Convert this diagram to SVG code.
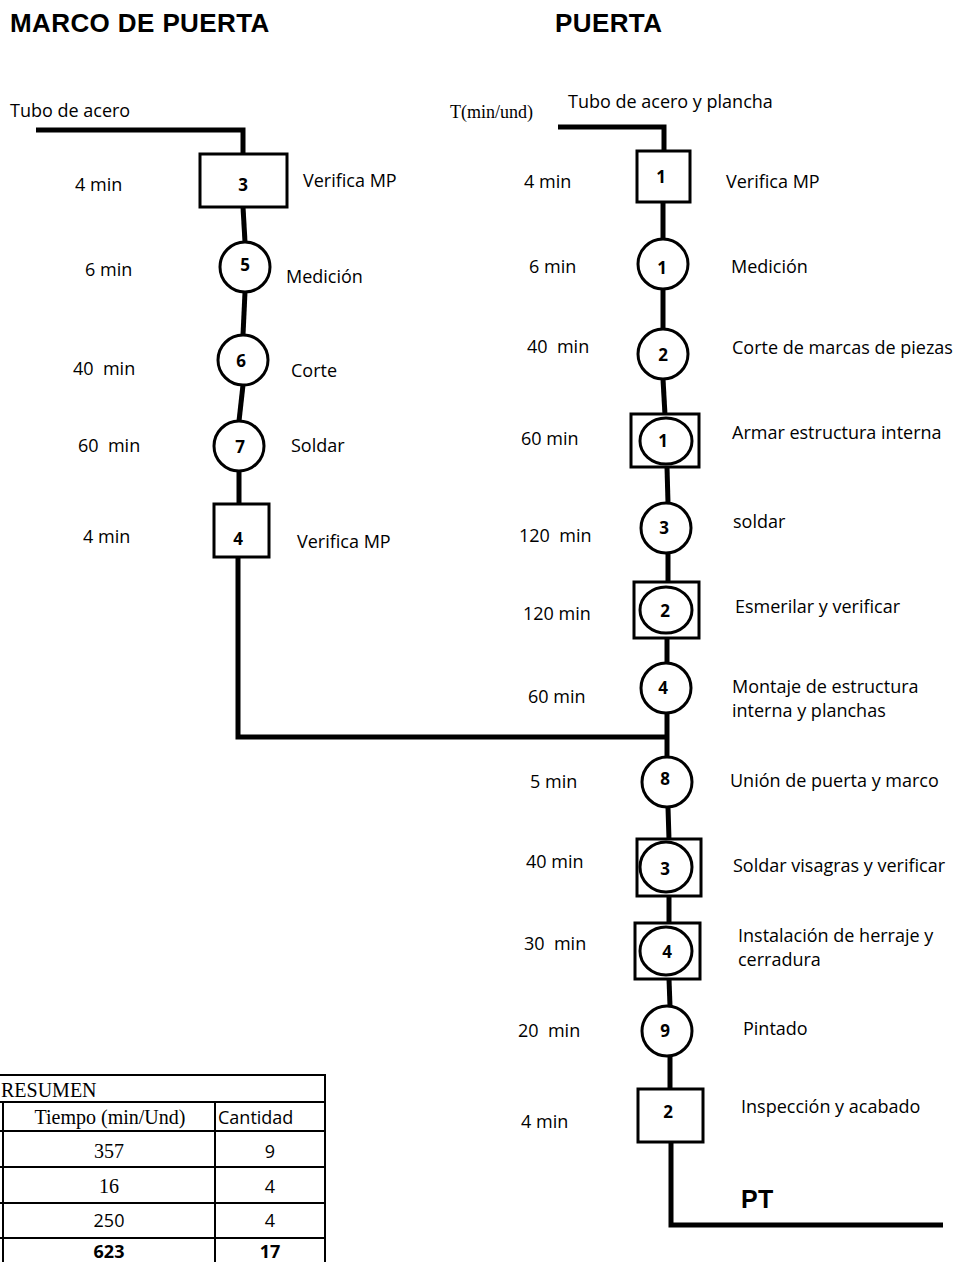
<svg xmlns="http://www.w3.org/2000/svg" width="957" height="1262" viewBox="0 0 957 1262">
<style>
.t{font-family:"Open Sans","Liberation Sans",sans-serif;font-size:18px;fill:#000;white-space:pre}
.n{font-family:"Open Sans","Liberation Sans",sans-serif;font-size:17px;font-weight:bold;fill:#000;text-anchor:middle}
.h{font-family:"Liberation Sans",Arial,sans-serif;font-size:26px;font-weight:bold;fill:#000;letter-spacing:0.4px}
.s{font-family:"Liberation Serif","Times New Roman",serif;font-size:20px;fill:#000}
.c{fill:none;stroke:#000;stroke-width:5;stroke-linejoin:miter}
.nd{fill:#fff;stroke:#000;stroke-width:3}
.tb{fill:none;stroke:#000;stroke-width:2}
.tn{font-family:"Open Sans","Liberation Sans",sans-serif;font-size:18px;fill:#000;text-anchor:middle}
</style>
<rect width="957" height="1262" fill="#fff"/>
<text class="h" x="10" y="32">MARCO DE PUERTA</text>
<text class="h" x="555" y="32">PUERTA</text>
<text class="t" x="10" y="117">Tubo de acero</text>
<text class="s" x="450" y="118" style="font-size:18px">T(min/und)</text>
<text class="t" x="568" y="108">Tubo de acero y plancha</text>
<g id="connectors">
<polyline class="c" points="36,130 243,130 243,156"/>
<line class="c" x1="243" y1="207" x2="245" y2="242"/>
<line class="c" x1="245" y1="292" x2="243" y2="335"/>
<line class="c" x1="243" y1="385" x2="239" y2="421"/>
<line class="c" x1="239" y1="471" x2="239" y2="505"/>
<polyline class="c" points="238,556 238,737 666,737"/>
<polyline class="c" points="558,127 664,127 664,152"/>
<line class="c" x1="663" y1="202" x2="663" y2="239"/>
<line class="c" x1="663" y1="289" x2="663" y2="329"/>
<line class="c" x1="663" y1="379" x2="665" y2="415"/>
<line class="c" x1="667" y1="467" x2="668" y2="503"/>
<line class="c" x1="668" y1="553" x2="668" y2="583"/>
<line class="c" x1="667" y1="638" x2="667" y2="663"/>
<line class="c" x1="667" y1="713" x2="667" y2="757"/>
<line class="c" x1="668" y1="807" x2="669" y2="840"/>
<line class="c" x1="669" y1="896" x2="669" y2="924"/>
<line class="c" x1="669" y1="979" x2="670" y2="1006"/>
<line class="c" x1="670" y1="1056" x2="670" y2="1090"/>
<polyline class="c" points="671,1140 671,1225 943,1225"/>
</g>
<g id="m3"><rect class="nd" x="200" y="154" width="87" height="53"/><text class="n" x="243" y="191">3</text></g>
<g id="m5"><circle class="nd" cx="245" cy="267" r="25"/><text class="n" x="245" y="271">5</text></g>
<g id="m6"><circle class="nd" cx="243" cy="360" r="25"/><text class="n" x="241" y="367">6</text></g>
<g id="m7"><circle class="nd" cx="239" cy="446" r="25"/><text class="n" x="240" y="453">7</text></g>
<g id="m4"><rect class="nd" x="214" y="504" width="55" height="53"/><text class="n" x="238" y="545">4</text></g>
<g id="p1"><rect class="nd" x="637" y="151" width="53" height="51"/><text class="n" x="661" y="183">1</text></g>
<g id="pc1"><circle class="nd" cx="663" cy="264" r="25"/><text class="n" x="662" y="274">1</text></g>
<g id="pc2"><circle class="nd" cx="663" cy="354" r="25"/><text class="n" x="663" y="361">2</text></g>
<g id="ps1"><rect class="nd" x="631" y="414" width="68" height="53"/><ellipse class="nd" cx="666" cy="441" rx="26" ry="23"/><text class="n" x="663" y="447">1</text></g>
<g id="pc3"><circle class="nd" cx="666" cy="528" r="25"/><text class="n" x="664" y="534">3</text></g>
<g id="ps2"><rect class="nd" x="634" y="582" width="65" height="56"/><ellipse class="nd" cx="666" cy="610" rx="26" ry="23"/><text class="n" x="665" y="617">2</text></g>
<g id="pc4"><circle class="nd" cx="666" cy="688" r="25"/><text class="n" x="663" y="694">4</text></g>
<g id="pc8"><circle class="nd" cx="667" cy="782" r="25"/><text class="n" x="665" y="785">8</text></g>
<g id="ps3"><rect class="nd" x="637" y="839" width="64" height="57"/><ellipse class="nd" cx="666" cy="867" rx="26" ry="25"/><text class="n" x="665" y="875">3</text></g>
<g id="ps4"><rect class="nd" x="635" y="923" width="65" height="56"/><ellipse class="nd" cx="666" cy="951" rx="26" ry="24"/><text class="n" x="667" y="958">4</text></g>
<g id="pc9"><circle class="nd" cx="667" cy="1031" r="25"/><text class="n" x="665" y="1037">9</text></g>
<g id="p2"><rect class="nd" x="638" y="1089" width="65" height="53"/><text class="n" x="668" y="1118">2</text></g>
<g id="labels">
<text class="t" x="75" y="191">4 min</text>
<text class="t" x="303" y="187">Verifica MP</text>
<text class="t" x="85" y="276">6 min</text>
<text class="t" x="286" y="283">Medición</text>
<text class="t" x="73" y="375">40  min</text>
<text class="t" x="291" y="377">Corte</text>
<text class="t" x="78" y="452">60  min</text>
<text class="t" x="291" y="452">Soldar</text>
<text class="t" x="83" y="543">4 min</text>
<text class="t" x="297" y="548">Verifica MP</text>
<text class="t" x="524" y="188">4 min</text>
<text class="t" x="726" y="188">Verifica MP</text>
<text class="t" x="529" y="273">6 min</text>
<text class="t" x="731" y="273">Medición</text>
<text class="t" x="527" y="353">40  min</text>
<text class="t" x="732" y="354">Corte de marcas de piezas</text>
<text class="t" x="521" y="445">60 min</text>
<text class="t" x="732" y="439">Armar estructura interna</text>
<text class="t" x="519" y="542">120  min</text>
<text class="t" x="733" y="528">soldar</text>
<text class="t" x="523" y="620">120 min</text>
<text class="t" x="735" y="613">Esmerilar y verificar</text>
<text class="t" x="528" y="703">60 min</text>
<text class="t" x="732" y="693">Montaje de estructura</text>
<text class="t" x="732" y="717">interna y planchas</text>
<text class="t" x="530" y="788">5 min</text>
<text class="t" x="730" y="787">Unión de puerta y marco</text>
<text class="t" x="526" y="868">40 min</text>
<text class="t" x="733" y="872">Soldar visagras y verificar</text>
<text class="t" x="524" y="950">30  min</text>
<text class="t" x="738" y="942">Instalación de herraje y</text>
<text class="t" x="738" y="966">cerradura</text>
<text class="t" x="518" y="1037">20  min</text>
<text class="t" x="743" y="1035">Pintado</text>
<text class="t" x="521" y="1128">4 min</text>
<text class="t" x="741" y="1113">Inspección y acabado</text>
<text class="h" x="741" y="1208" style="font-size:25px">PT</text>
</g>
<g id="resumen">
<line class="tb" x1="0" y1="1075" x2="326" y2="1075"/>
<line class="tb" x1="325" y1="1075" x2="325" y2="1262"/>
<line class="tb" x1="0" y1="1102" x2="326" y2="1102"/>
<line class="tb" x1="0" y1="1131" x2="326" y2="1131"/>
<line class="tb" x1="0" y1="1167" x2="326" y2="1167"/>
<line class="tb" x1="0" y1="1203" x2="326" y2="1203"/>
<line class="tb" x1="0" y1="1238" x2="326" y2="1238"/>
<line class="tb" x1="3" y1="1102" x2="3" y2="1262"/>
<line class="tb" x1="215" y1="1102" x2="215" y2="1262"/>
<text class="s" x="1" y="1097">RESUMEN</text>
<text class="s" x="110" y="1124" text-anchor="middle">Tiempo (min/Und)</text>
<text class="t" x="218" y="1124">Cantidad</text>
<text class="s" x="109" y="1158" text-anchor="middle">357</text>
<text class="tn" x="270" y="1158">9</text>
<text class="s" x="109" y="1193" text-anchor="middle">16</text>
<text class="tn" x="270" y="1193">4</text>
<text class="tn" x="109" y="1227">250</text>
<text class="tn" x="270" y="1227">4</text>
<text class="tn" x="109" y="1258" style="font-weight:bold">623</text>
<text class="tn" x="270" y="1258" style="font-weight:bold">17</text>
</g>
</svg>
